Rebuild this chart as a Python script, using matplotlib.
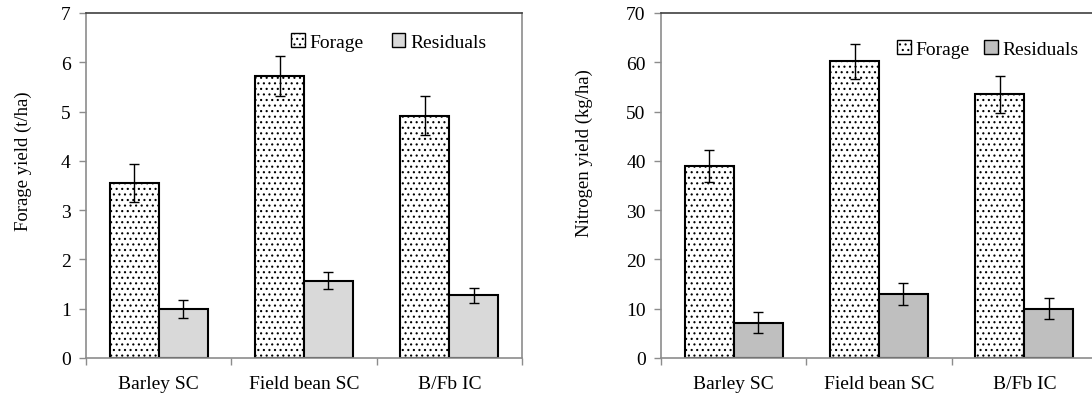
import matplotlib
matplotlib.use("Agg")
import matplotlib.pyplot as plt
import numpy as np
from matplotlib.patches import Patch

categories = ["Barley SC", "Field bean SC", "B/Fb IC"]
forage_yield = [3.55, 5.72, 4.92]
forage_yield_err = [0.39, 0.40, 0.40]
residual_yield = [1.00, 1.57, 1.27]
residual_yield_err = [0.18, 0.17, 0.15]

forage_n = [39.0, 60.2, 53.5]
forage_n_err = [3.3, 3.6, 3.7]
residual_n = [7.2, 13.0, 10.0]
residual_n_err = [2.1, 2.2, 2.1]

plt.rcParams['font.family'] = ['Liberation Serif', 'DejaVu Serif']
plt.rcParams['hatch.linewidth'] = 0.8

W, H = 1092, 402
fig = plt.figure(figsize=(W / 100, H / 100), dpi=100)

def px_axes(x0, x1, ytop, ybot):
    return fig.add_axes([x0 / W, 1 - ybot / H, (x1 - x0) / W, (ybot - ytop) / H])

ax1 = px_axes(86, 522, 14, 359)
ax2 = px_axes(661, 1097, 14, 359)

bw = 0.337
gray_spine = "#8c8c8c"

def draw(ax, fvals, ferr, rvals, rerr, rcolor, ymax, ystep, ylabel, ylab_xy, leg_xy, colspace):
    x = np.arange(len(categories))
    ax.bar(x - bw / 2, fvals, bw, color="white", edgecolor="black", hatch="...",
           linewidth=1.5, zorder=2)
    ax.bar(x + bw / 2, rvals, bw, color=rcolor, edgecolor="black",
           linewidth=1.5, zorder=2)
    ax.errorbar(x - bw / 2, fvals, yerr=ferr, fmt="none", ecolor="black",
                elinewidth=1.0, capsize=3.5, capthick=1.0, zorder=3)
    ax.errorbar(x + bw / 2, rvals, yerr=rerr, fmt="none", ecolor="black",
                elinewidth=1.0, capsize=3.5, capthick=1.0, zorder=3)
    ax.set_xlim(-0.5, len(categories) - 0.5)
    ax.set_ylim(0, ymax)
    ax.set_yticks(np.arange(0, ymax + ystep / 2, ystep))
    ax.set_xticks(x)
    ax.set_xticklabels(categories)
    ax.set_xticks(np.arange(-0.5, len(categories)), minor=True)
    ax.tick_params(axis="x", which="major", length=0, pad=12, labelsize=14)
    ax.tick_params(axis="x", which="minor", length=5, width=1, color=gray_spine, direction="out")
    ax.tick_params(axis="y", length=5, width=1, color=gray_spine, direction="out",
                   labelsize=14, pad=6)
    for s in ["left", "bottom", "right"]:
        ax.spines[s].set_color(gray_spine)
        ax.spines[s].set_linewidth(1.2)
    ax.spines["top"].set_color("#404040")
    ax.spines["top"].set_linewidth(1.2)
    ax.set_ylabel(ylabel, fontsize=13.5)
    ax.yaxis.set_label_coords(*ylab_xy, transform=fig.transFigure)
    handles = [Patch(facecolor="white", edgecolor="black", hatch="...", linewidth=1.0, label="Forage"),
               Patch(facecolor=rcolor, edgecolor="black", linewidth=1.0, label="Residuals")]
    fig.legend(handles=handles, loc="center left",
               bbox_to_anchor=(leg_xy[0] / W, 1 - leg_xy[1] / H),
               ncol=2, frameon=False, fontsize=14, handlelength=0.7, handleheight=0.7,
               handletextpad=0.25, columnspacing=colspace, borderpad=0, borderaxespad=0)

draw(ax1, forage_yield, forage_yield_err, residual_yield, residual_yield_err,
     "#d9d9d9", 7, 1, "Forage yield (t/ha)", (32 / W, 1 - 161 / H), (291, 43), 1.45)
draw(ax2, forage_n, forage_n_err, residual_n, residual_n_err,
     "#bfbfbf", 70, 10, "Nitrogen yield (kg/ha)", (593 / W, 1 - 153 / H), (897, 50), 0.75)

fig.savefig("out.png", dpi=100)
